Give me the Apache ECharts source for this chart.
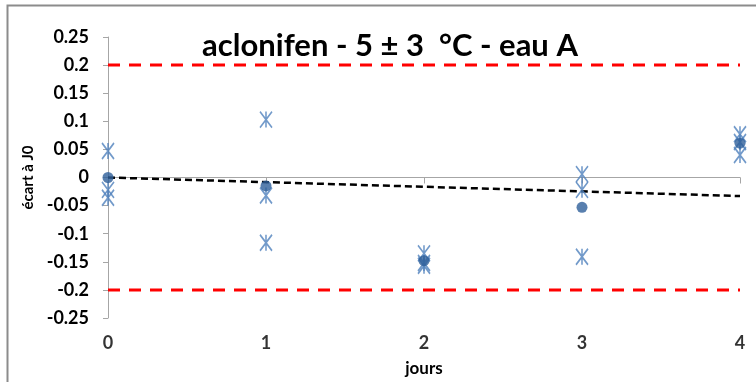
<!DOCTYPE html>
<html><head><meta charset="utf-8">
<script src="https://cdn.jsdelivr.net/npm/echarts@6/dist/echarts.min.js"></script>
<style>html,body{margin:0;padding:0;background:#fff}#c{width:756px;height:382px}</style>
</head><body><div id="c"></div>
<script>
const title = 'aclonifen - 5 ± 3  °C - eau A';
const xName = 'jours';
const yName = 'écart à J0';
const yTicks = [-0.25, 0.25, 0.05];
// replicate values (stars)
const repDays = [0,0,0, 1,1,1, 2,2,2, 3,3,3, 4,4,4];
const repVals = [0.047,-0.022,-0.036, 0.103,-0.032,-0.116, -0.135,-0.157,-0.152, 0.006,-0.022,-0.141, 0.077,0.063,0.040];
// mean values (dots)
const meanDays = [0,1,2,3,4];
const meanVals = [0.000,-0.015,-0.148,-0.053,0.061];
// trend line endpoints
const trendDays = [0,4];
const trendVals = [0.000,-0.033];
// limits
const limitVals = [0.2,-0.2];

const star = 'path://M0,0L12,16M12,0L0,16M6,0L6,16';
const chart = echarts.init(document.getElementById('c'));
const bold = {fontFamily:'Lato', fontWeight:'bold', color:'#000'};
chart.setOption({
  animation:false,
  graphic:[{type:'polyline', shape:{points:[[7.5,390],[7.5,5.5],[760,5.5]]}, style:{stroke:'#8c8c8c', lineWidth:2, fill:null}}],
  title:{text:title, left:385, top:25, textAlign:'center', textStyle:{...bold, fontSize:31}},
  grid:{left:108, right:16, top:37, bottom:62},
  xAxis:{type:'value', min:0, max:4, interval:1, name:xName, nameLocation:'middle', nameGap:0,
    nameTextStyle:{...bold, fontSize:17, padding:[42,0,0,0]},
    axisLine:{onZero:true, lineStyle:{color:'#a6a6a6', width:1}},
    axisTick:{show:true, length:6, inside:false, lineStyle:{color:'#a6a6a6'}},
    axisLabel:{show:false}, splitLine:{show:false}},
  yAxis:{type:'value', min:yTicks[0], max:yTicks[1], interval:yTicks[2], name:yName, nameLocation:'middle', nameGap:70,
    nameRotate:90, nameTextStyle:{...bold, fontSize:15},
    axisLine:{show:true, lineStyle:{color:'#a6a6a6'}}, axisTick:{show:true, length:5, lineStyle:{color:'#a6a6a6'}},
    axisLabel:{...bold, fontSize:18, margin:19, formatter:v=>String(+v.toFixed(2))}, splitLine:{show:false}},
  series:[
    ...limitVals.map(v=>({type:'line', data:[[0,v],[4,v]], showSymbol:false, silent:true,
      lineStyle:{color:'#ff0000', width:3, type:[12,9]}})),
    {type:'line', data:trendDays.map((d,i)=>[d,trendVals[i]]), showSymbol:false, silent:true,
      lineStyle:{color:'#000', width:2.5, type:[7,4]}},
    {type:'scatter', data:repDays.map((d,i)=>[d,repVals[i]]), symbol:star, symbolSize:[12,16],
      itemStyle:{color:'rgba(0,0,0,0)', borderColor:'#4f81bd', borderWidth:1.8}, z:3},
    {type:'scatter', data:meanDays.map((d,i)=>[d,meanVals[i]]), symbol:'circle', symbolSize:11,
      itemStyle:{color:'#2e5f9a'}, z:4},
    {type:'scatter', data:meanDays.map(d=>[d,-0.25]), symbolSize:0, silent:true,
      label:{show:true, position:'bottom', distance:16, formatter:p=>String(p.value[0]), ...bold, fontSize:18}}
  ]
});
</script></body></html>
